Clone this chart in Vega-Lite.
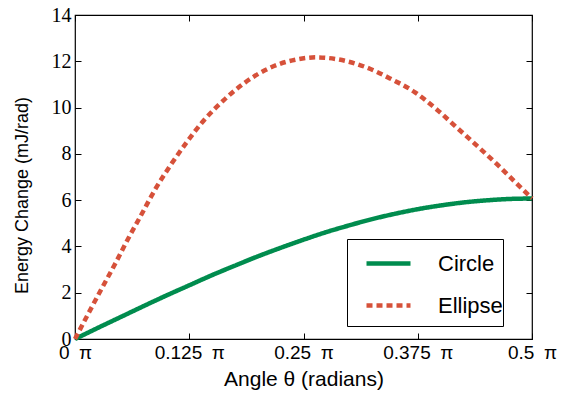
{
  "$schema": "https://vega.github.io/schema/vega-lite/v6.json",
  "width": 457,
  "height": 324,
  "autosize": {"type": "none"},
  "padding": {"left": 75, "top": 15, "right": 42, "bottom": 62},
  "background": "white",
  "config": {"view": {"stroke": "black", "strokeWidth": 1.2}},
  "datasets": {
    "curves": [
      {"shape": "Circle", "theta": 0, "energy": 0},
      {"shape": "Circle", "theta": 0.025, "energy": 0.48},
      {"shape": "Circle", "theta": 0.05, "energy": 0.95},
      {"shape": "Circle", "theta": 0.075, "energy": 1.42},
      {"shape": "Circle", "theta": 0.1, "energy": 1.88},
      {"shape": "Circle", "theta": 0.125, "energy": 2.32},
      {"shape": "Circle", "theta": 0.15, "energy": 2.76},
      {"shape": "Circle", "theta": 0.175, "energy": 3.17},
      {"shape": "Circle", "theta": 0.2, "energy": 3.57},
      {"shape": "Circle", "theta": 0.225, "energy": 3.94},
      {"shape": "Circle", "theta": 0.25, "energy": 4.29},
      {"shape": "Circle", "theta": 0.275, "energy": 4.62},
      {"shape": "Circle", "theta": 0.3, "energy": 4.91},
      {"shape": "Circle", "theta": 0.325, "energy": 5.18},
      {"shape": "Circle", "theta": 0.35, "energy": 5.41},
      {"shape": "Circle", "theta": 0.375, "energy": 5.61},
      {"shape": "Circle", "theta": 0.4, "energy": 5.77},
      {"shape": "Circle", "theta": 0.425, "energy": 5.9},
      {"shape": "Circle", "theta": 0.45, "energy": 5.99},
      {"shape": "Circle", "theta": 0.475, "energy": 6.05},
      {"shape": "Circle", "theta": 0.5, "energy": 6.07},
      {"shape": "Ellipse", "theta": 0, "energy": 0},
      {"shape": "Ellipse", "theta": 0.0146, "energy": 1.1},
      {"shape": "Ellipse", "theta": 0.0292, "energy": 2.18},
      {"shape": "Ellipse", "theta": 0.0438, "energy": 3.24},
      {"shape": "Ellipse", "theta": 0.0577, "energy": 4.3},
      {"shape": "Ellipse", "theta": 0.073, "energy": 5.4},
      {"shape": "Ellipse", "theta": 0.0875, "energy": 6.45},
      {"shape": "Ellipse", "theta": 0.1047, "energy": 7.52},
      {"shape": "Ellipse", "theta": 0.1222, "energy": 8.5},
      {"shape": "Ellipse", "theta": 0.1404, "energy": 9.42},
      {"shape": "Ellipse", "theta": 0.1622, "energy": 10.3},
      {"shape": "Ellipse", "theta": 0.186, "energy": 11.08},
      {"shape": "Ellipse", "theta": 0.2133, "energy": 11.72},
      {"shape": "Ellipse", "theta": 0.2425, "energy": 12.08},
      {"shape": "Ellipse", "theta": 0.2636, "energy": 12.17},
      {"shape": "Ellipse", "theta": 0.288, "energy": 12.08},
      {"shape": "Ellipse", "theta": 0.3173, "energy": 11.76},
      {"shape": "Ellipse", "theta": 0.3446, "energy": 11.26},
      {"shape": "Ellipse", "theta": 0.372, "energy": 10.66},
      {"shape": "Ellipse", "theta": 0.3957, "energy": 9.92},
      {"shape": "Ellipse", "theta": 0.4193, "energy": 9.08},
      {"shape": "Ellipse", "theta": 0.4412, "energy": 8.3},
      {"shape": "Ellipse", "theta": 0.4631, "energy": 7.5},
      {"shape": "Ellipse", "theta": 0.485, "energy": 6.65},
      {"shape": "Ellipse", "theta": 0.5, "energy": 6.08}
    ]
  },
  "data": {"name": "curves"},
  "layer": [
    {
      "mark": {"type": "line", "strokeWidth": 4.5, "strokeCap": "butt", "interpolate": "monotone", "clip": false},
      "encoding": {
        "x": {
          "field": "theta", "type": "quantitative",
          "scale": {"domain": [0, 0.5], "nice": false, "zero": false},
          "axis": {
            "orient": "bottom", "values": [0, 0.125, 0.25, 0.375, 0.5],
            "labelExpr": "datum.value + '\u2002π'",
            "title": "Angle θ (radians)",
            "domain": false, "grid": false, "ticks": true, "tickSize": -6, "tickColor": "black", "tickWidth": 1,
            "labelFont": "Liberation Sans", "labelFontSize": 19, "labelColor": "black", "labelPadding": 10,
            "labelFlush": false, "labelOverlap": false,
            "titleFont": "Liberation Sans", "titleFontSize": 21, "titleFontWeight": "normal", "titleColor": "black", "titlePadding": 6
          }
        },
        "y": {
          "field": "energy", "type": "quantitative",
          "scale": {"domain": [0, 14], "nice": false},
          "axis": {
            "orient": "left", "values": [0, 2, 4, 6, 8, 10, 12, 14],
            "title": "Energy Change (mJ/rad)",
            "domain": false, "grid": false, "ticks": true, "tickSize": -6, "tickColor": "black", "tickWidth": 1,
            "labelFont": "Liberation Serif", "labelFontSize": 20, "labelColor": "black", "labelPadding": 10,
            "labelFlush": false, "labelOverlap": false,
            "titleFont": "Liberation Sans", "titleFontSize": 18, "titleFontWeight": "normal", "titleColor": "black", "titlePadding": 20,
            "titleY": 180
          }
        },
        "color": {
          "field": "shape", "type": "nominal",
          "scale": {"domain": ["Circle", "Ellipse"], "range": ["#008C4E", "#D6513A"]},
          "legend": {
            "title": "\u00a0", "titleOrient": "bottom", "titleFontSize": 6, "titlePadding": 3,
            "orient": "none", "legendX": 272, "legendY": 224,
            "strokeColor": "black", "fillColor": "white", "padding": 0, "cornerRadius": 0,
            "symbolType": "stroke", "symbolSize": 1936, "symbolStrokeWidth": 4.5, "symbolOffset": 17,
            "labelFont": "Liberation Sans", "labelFontSize": 22, "labelColor": "black", "labelOffset": 25,
            "labelExpr": "datum.label + '\u2002\u2009'",
            "rowPadding": 6
          }
        },
        "strokeDash": {
          "field": "shape", "type": "nominal",
          "scale": {"domain": ["Circle", "Ellipse"], "range": [[1, 0], [6, 4]]},
          "legend": {
            "title": "\u00a0", "titleOrient": "bottom", "titleFontSize": 6, "titlePadding": 3,
            "orient": "none", "legendX": 272, "legendY": 224,
            "strokeColor": "black", "fillColor": "white", "padding": 0, "cornerRadius": 0,
            "symbolType": "stroke", "symbolSize": 1936, "symbolStrokeWidth": 4.5, "symbolOffset": 17,
            "labelFont": "Liberation Sans", "labelFontSize": 22, "labelColor": "black", "labelOffset": 25,
            "labelExpr": "datum.label + '\u2002\u2009'",
            "rowPadding": 6
          }
        }
      }
    },
    {
      "mark": {"type": "point", "opacity": 0},
      "encoding": {
        "x": {
          "field": "theta", "type": "quantitative",
          "scale": {"domain": [0, 0.5], "nice": false, "zero": false},
          "axis": {"orient": "top", "values": [0, 0.125, 0.25, 0.375, 0.5], "labels": false, "title": null, "domain": false, "grid": false, "tickSize": -6, "tickColor": "black"}
        },
        "y": {
          "field": "energy", "type": "quantitative",
          "scale": {"domain": [0, 14], "nice": false},
          "axis": {"orient": "right", "values": [0, 2, 4, 6, 8, 10, 12, 14], "labels": false, "title": null, "domain": false, "grid": false, "tickSize": -6, "tickColor": "black"}
        }
      }
    }
  ],
  "resolve": {"axis": {"x": "independent", "y": "independent"}}
}
